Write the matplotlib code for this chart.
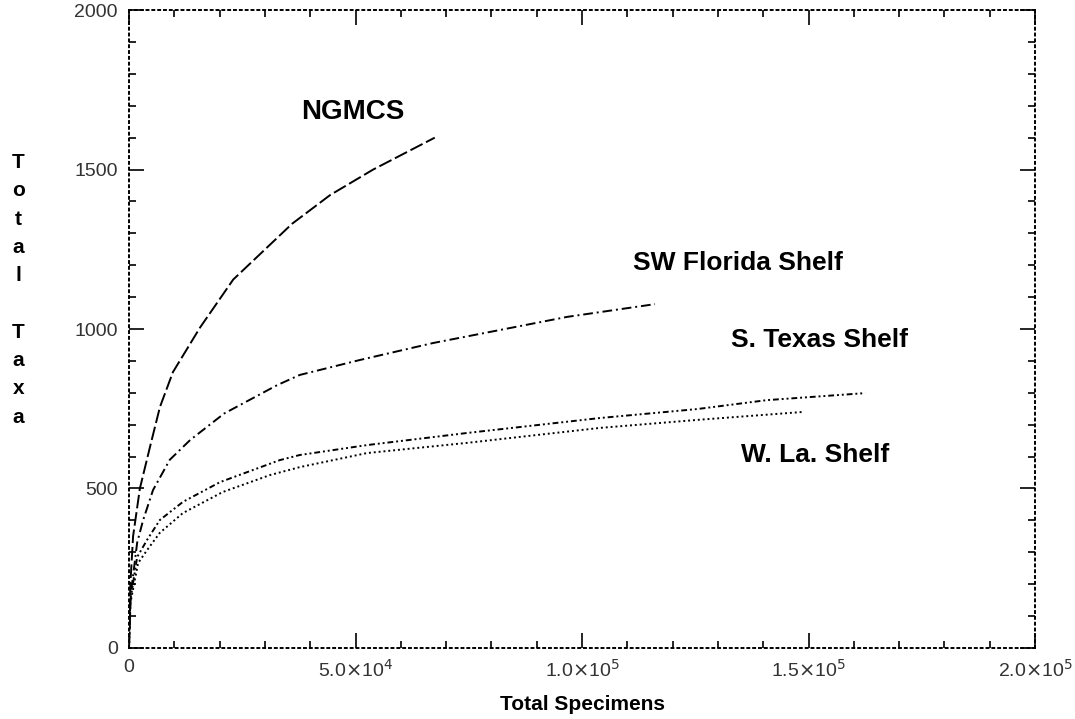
import matplotlib.pyplot as plt
from matplotlib.ticker import MultipleLocator, FixedLocator, FixedFormatter

# values
ngmcs_x = [0, 300, 900, 2400, 4800, 6840, 9700, 15700, 23000, 36000, 44400, 53900, 67500]
ngmcs_y = [0, 200, 350, 500, 640, 756, 865, 1005, 1155, 1330, 1420, 1500, 1600]

florida_x = [0, 400, 1800, 3100, 5300, 9000, 13500, 21000, 32700, 37700, 51000, 67100, 96700, 116100]
florida_y = [0, 170, 330, 400, 495, 590, 652, 735, 824, 856, 903, 956, 1038, 1078]

texas_x = [0, 300, 1800, 4000, 6800, 11900, 20100, 33300, 37700, 52500, 74600, 104000, 125400, 140800, 162500]
texas_y = [0, 150, 285, 339, 401, 458, 520, 589, 605, 636, 674, 721, 749, 777, 799]

wla_x = [0, 300, 2000, 4000, 6800, 11900, 20700, 31100, 37700, 52500, 74600, 104000, 125400, 148800]
wla_y = [0, 140, 266, 307, 361, 423, 489, 542, 567, 611, 643, 690, 715, 740]

x_ticks = [0, 50000, 100000, 150000, 200000]
x_tick_labels = ['0', r'5.0$\times$10$^4$', r'1.0$\times$10$^5$', r'1.5$\times$10$^5$', r'2.0$\times$10$^5$']
y_ticks = [0, 500, 1000, 1500, 2000]

plt.rcParams['font.family'] = ['Liberation Sans', 'DejaVu Sans']

fig = plt.figure(figsize=(10.75, 7.19), dpi=100)
ax = fig.add_axes([0.12, 0.0988, 0.8428, 0.8872])

ax.plot(ngmcs_x, ngmcs_y, color='black', lw=1.4, linestyle=(0, (7, 2)))
ax.plot(florida_x, florida_y, color='black', lw=1.4, linestyle=(0, (5, 2, 1, 2)))
ax.plot(texas_x, texas_y, color='black', lw=1.4, linestyle=(0, (1, 1.5, 1, 1.5, 3, 1.5)))
ax.plot(wla_x, wla_y, color='black', lw=1.4, linestyle=(0, (1, 1.5)))

ax.set_xlim(0, 200000)
ax.set_ylim(0, 2000)
ax.xaxis.set_major_locator(FixedLocator(x_ticks))
ax.xaxis.set_major_formatter(FixedFormatter(x_tick_labels))
ax.xaxis.set_minor_locator(MultipleLocator(10000))
ax.yaxis.set_major_locator(FixedLocator(y_ticks))
ax.yaxis.set_minor_locator(MultipleLocator(100))

ax.tick_params(which='both', direction='in', top=True, right=True, colors='black',
               labelcolor='#333333', labelsize=14, width=1.2)
ax.tick_params(which='major', length=11, pad=8)
ax.tick_params(which='minor', length=5)

for sp in ax.spines.values():
    sp.set_linestyle((0, (1, 2)))
    sp.set_linewidth(1.4)

ax.text(49500, 1680, 'NGMCS', fontsize=20, fontweight='bold', ha='center', va='center')
ax.text(134400, 1207, 'SW Florida Shelf', fontsize=19, fontweight='bold', ha='center', va='center')
ax.text(152500, 966, 'S. Texas Shelf', fontsize=19, fontweight='bold', ha='center', va='center')
ax.text(151400, 605, 'W. La. Shelf', fontsize=19, fontweight='bold', ha='center', va='center')

ax.set_xlabel('Total Specimens', fontsize=15, fontweight='bold', labelpad=10)
fig.text(0.017, 0.597, 'T\no\nt\na\nl\n \nT\na\nx\na', fontsize=15, fontweight='bold',
         ha='center', va='center', linespacing=1.62)

fig.savefig('out.png', dpi=100)
